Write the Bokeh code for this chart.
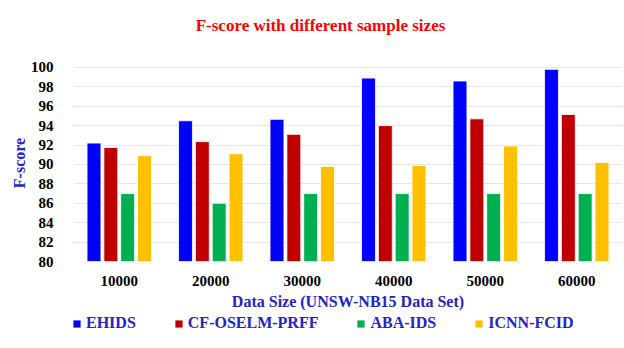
from bokeh.plotting import figure
from bokeh.models import ColumnDataSource, FactorRange, Legend, LegendItem, Label, FixedTicker, Range1d
from bokeh.layouts import column
from bokeh.transform import dodge
from bokeh.embed import file_html
from bokeh.resources import INLINE

sizes = ["10000", "20000", "30000", "40000", "50000", "60000"]
ehids = [92.2, 94.5, 94.65, 98.9, 98.6, 99.8]
cf_oselm_prff = [91.75, 92.35, 93.1, 94.0, 94.7, 95.15]
aba_ids = [87.0, 86.0, 87.0, 87.0, 87.0, 87.0]
icnn_fcid = [90.9, 91.1, 89.8, 89.9, 91.9, 90.2]

series_names = ["EHIDS", "CF-OSELM-PRFF", "ABA-IDS", "ICNN-FCID"]
series_keys = ["ehids", "cf", "aba", "icnn"]
colors = ["#0000FF", "#C00000", "#00B050", "#FFC000"]

source = ColumnDataSource(dict(size=sizes, ehids=ehids, cf=cf_oselm_prff, aba=aba_ids, icnn=icnn_fcid))

FONT = "Liberation Serif"
BLUE_TXT = "#2323C8"
W = 624
FRAME_LEFT = 73
FRAME_RIGHT = 622


def blank_fig(h):
    # frames in a column are aligned with the main chart's frame (73..622 px)
    f = figure(width=W, height=h, output_backend="svg", toolbar_location=None,
               x_axis_location=None, y_axis_location=None,
               x_range=Range1d(FRAME_LEFT, FRAME_RIGHT), y_range=Range1d(0, h),
               min_border=0, min_border_left=FRAME_LEFT, min_border_right=W - FRAME_RIGHT)
    f.grid.visible = False
    f.outline_line_color = None
    f.background_fill_color = "white"
    f.border_fill_color = "white"
    return f


# ---- title strip ----
t = blank_fig(40)
t.add_layout(Label(x=320, y=15, text="F-score with different sample sizes",
                   text_align="center", text_baseline="middle",
                   text_font=FONT, text_font_style="bold", text_font_size="17px",
                   text_color="#FF0000"))

# ---- main chart ----
p = figure(x_range=FactorRange(*sizes), y_range=(80, 100.3),
           width=W, height=272, output_backend="svg", toolbar_location=None,
           min_border_left=FRAME_LEFT, min_border_right=W - FRAME_RIGHT,
           min_border_top=24, min_border_bottom=51)
p.x_range.range_padding = 0
p.outline_line_color = None
p.background_fill_color = "white"
p.border_fill_color = "white"

offsets = [-0.276, -0.092, 0.092, 0.276]
for key, off, col in zip(series_keys, offsets, colors):
    p.vbar(x=dodge("size", off, range=p.x_range), top=key, bottom=80, width=0.152,
           source=source, fill_color=col, line_color="white", line_width=0.8)

p.yaxis.ticker = FixedTicker(ticks=list(range(80, 101, 2)))
p.ygrid.ticker = FixedTicker(ticks=list(range(80, 101, 2)))
p.xgrid.grid_line_color = None
p.ygrid.grid_line_color = "#E6E6E6"
p.ygrid.grid_line_width = 1

for ax in (p.xaxis, p.yaxis):
    ax.axis_line_color = None
    ax.major_tick_line_color = None
    ax.minor_tick_line_color = None
    ax.major_label_text_font = FONT
    ax.major_label_text_font_style = "bold"
    ax.major_label_text_font_size = "15px"
    ax.major_label_text_color = "black"
    ax.axis_label_text_font = FONT
    ax.axis_label_text_font_style = "bold"
    ax.axis_label_text_font_size = "16px"
    ax.axis_label_text_color = BLUE_TXT

p.yaxis.axis_label = "F-score"
p.yaxis.major_label_standoff = 14
p.yaxis.axis_label_standoff = 0
p.xaxis.axis_label = "Data Size (UNSW-NB15 Data Set)"
p.xaxis.major_label_standoff = 8
p.xaxis.axis_label_standoff = 4

# ---- legend strip (zero-size proxy glyphs only carry the legend swatches) ----
lg = blank_fig(36)
items = []
for n, col in zip(series_names, colors):
    r = lg.vbar(x=[FRAME_LEFT], top=[0], bottom=[0], width=0,
                fill_color=col, line_color=None)
    items.append(LegendItem(label=n, renderers=[r]))
legend = Legend(items=items, orientation="horizontal", location=(-1, 16),
                label_text_font=FONT, label_text_font_style="bold", label_text_font_size="16px",
                label_text_color=BLUE_TXT, glyph_width=9, glyph_height=9, label_height=16,
                label_standoff=5, spacing=38, padding=2, margin=0,
                border_line_color=None, background_fill_alpha=0)
lg.add_layout(legend, "center")

layout = column(t, p, lg, spacing=0)
open("out.html", "w").write(file_html(layout, INLINE))
